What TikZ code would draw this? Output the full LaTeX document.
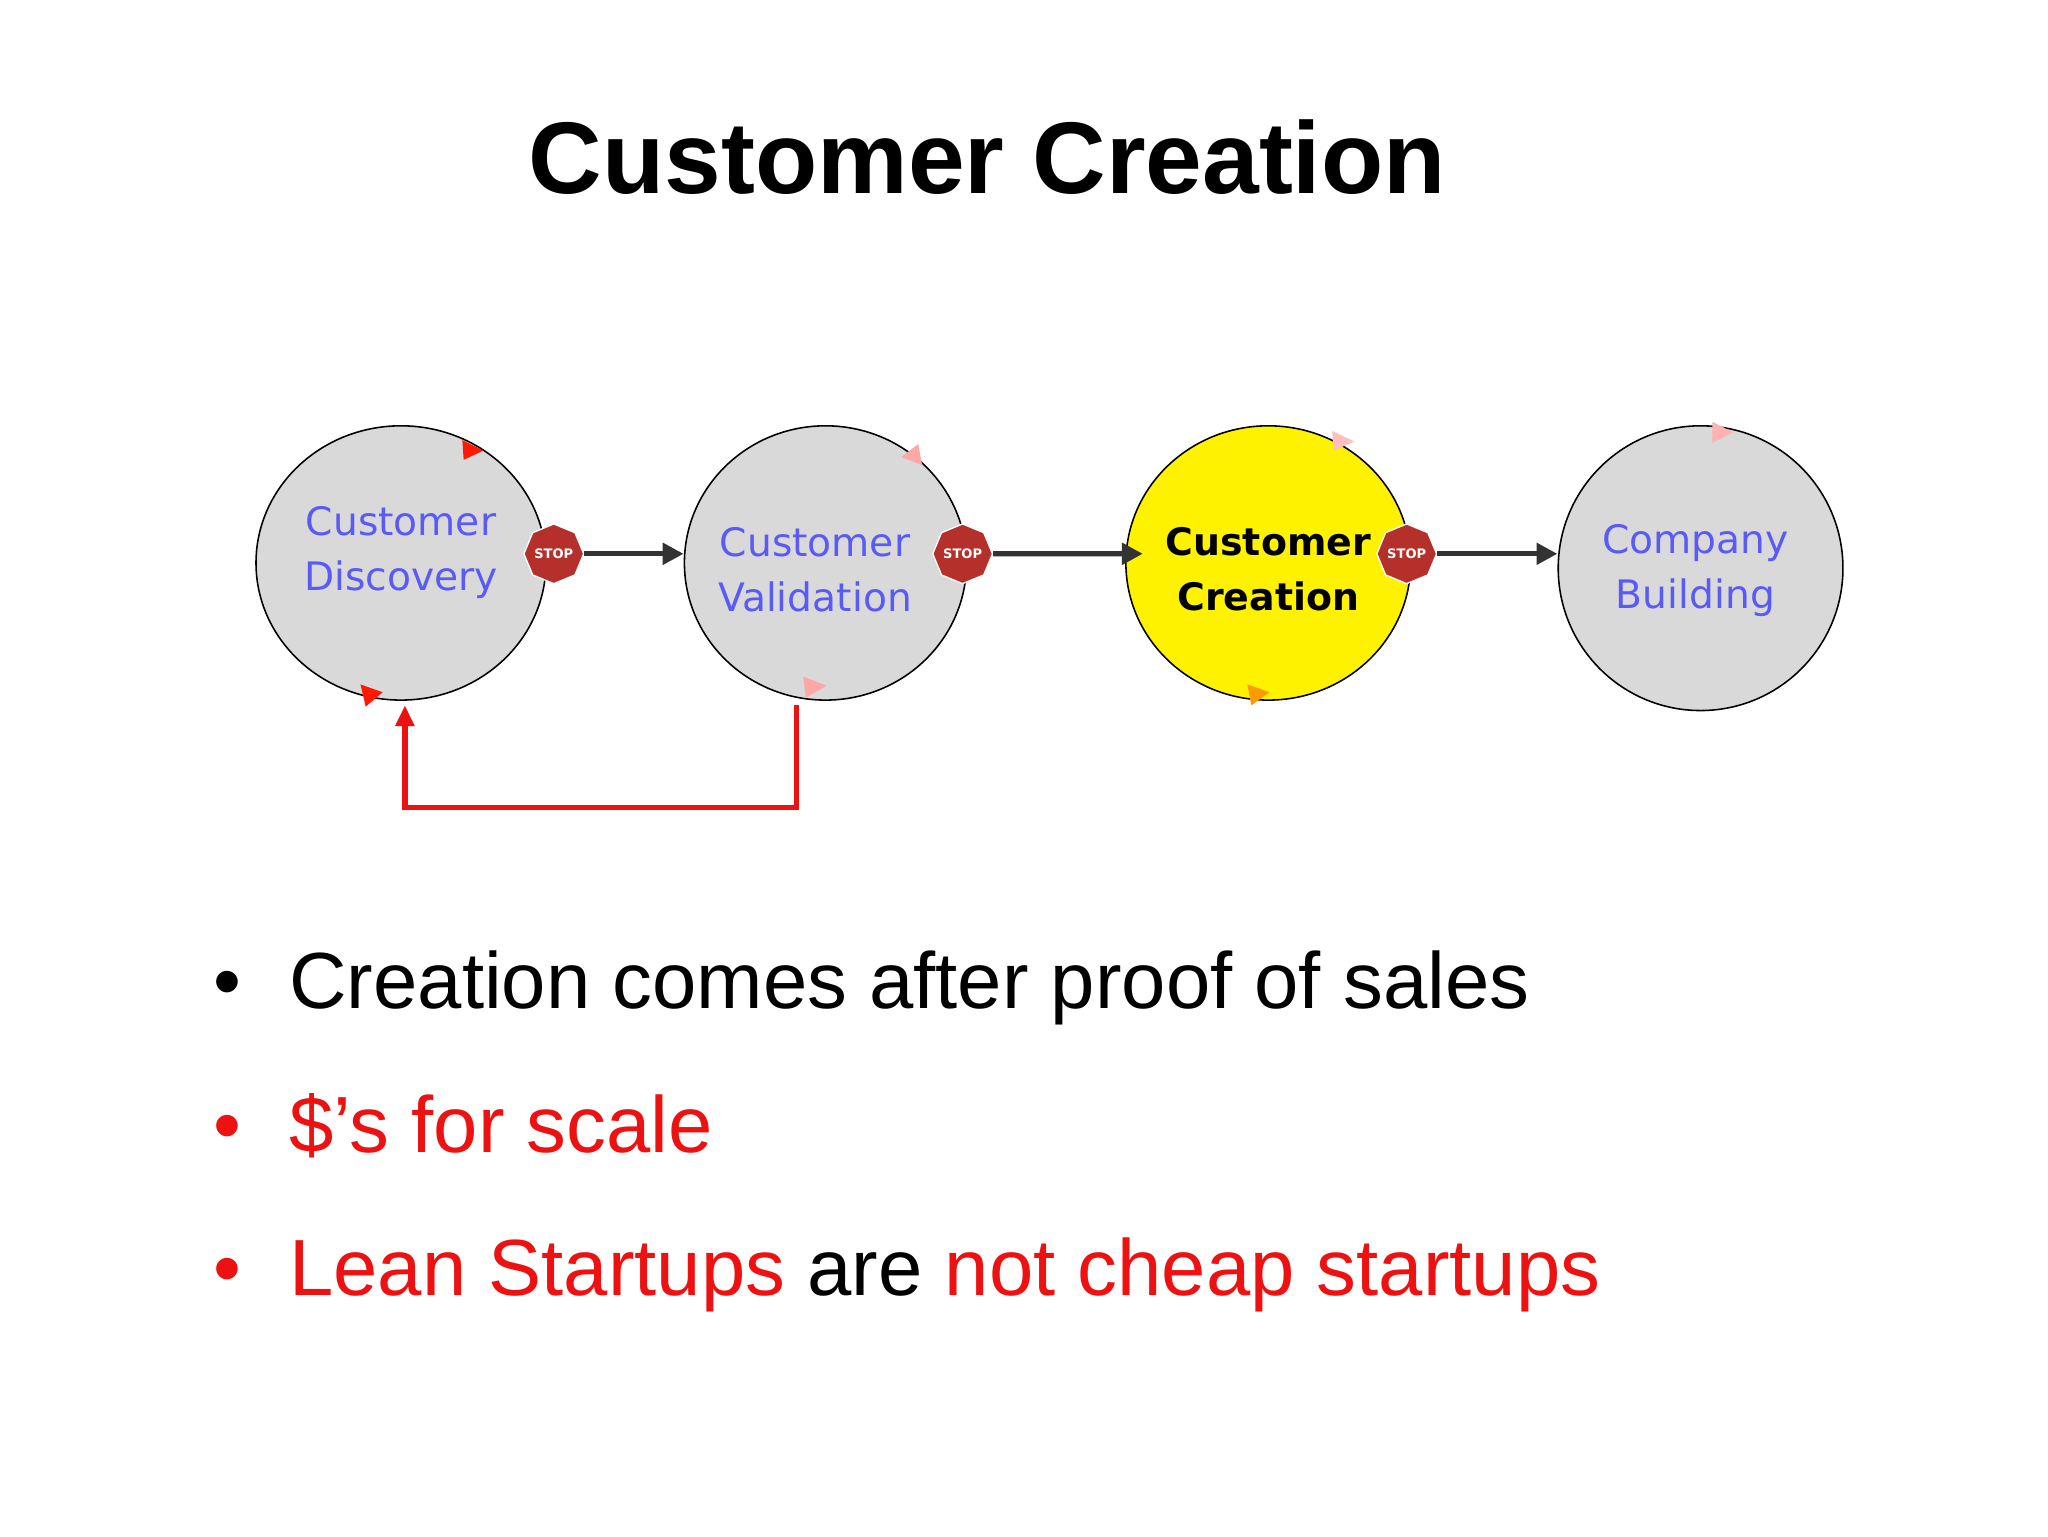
\documentclass[tikz,border=0pt]{standalone}
\usepackage{fontspec}
\setmainfont{Liberation Sans}
\newfontfamily\verd{DejaVu Sans}
\usetikzlibrary{shapes.geometric,arrows.meta}
\definecolor{cblue}{HTML}{5A5AF5}
\definecolor{cgray}{HTML}{D9D9D9}
\definecolor{cred}{HTML}{EE1111}
\definecolor{stopred}{HTML}{B5302A}
\tikzset{
 stage/.style={ellipse,draw=black,line width=1.2pt,fill=cgray,inner sep=0pt},
 stagetext/.style={font=\verd\fontsize{30}{42}\selectfont,text=cblue,align=center},
 stopsign/.style={regular polygon,regular polygon sides=8,shape border rotate=22.5,fill=stopred,draw=white,line width=1pt,minimum size=40pt,inner sep=0pt,text=white,font=\verd\bfseries\fontsize{10}{10}\selectfont},
 flow/.style={draw=black!80,line width=4pt,-{Triangle[length=16pt,width=16pt]}},
 tri/.style={fill=#1,draw=none},
 bullet/.style={anchor=base west,font=\fontsize{61}{63}\selectfont}
}
\begin{document}
\begin{tikzpicture}[x=1pt,y=-1pt]
\useasboundingbox[fill=white] (0,0) rectangle (1568,1176);
\node (title) at (756,120) {\bfseries\fontsize{78}{80}\selectfont Customer Creation};
\node[stage,minimum width=222pt,minimum height=210pt] (cd) at (307,431) {};
\node[stage,minimum width=216pt,minimum height=210pt] (cv) at (632,431) {};
\node[stage,fill=yellow,minimum width=218pt,minimum height=210pt] (cc) at (971,431) {};
\node[stage,minimum width=218pt,minimum height=218pt] (cb) at (1302,435) {};
\node[stagetext] (cdt) at (307,423) {Customer\\Discovery};
\node[stagetext] (cvt) at (624,436) {Customer\\Validation};
\node[stagetext,text=black,font=\verd\bfseries\fontsize{29}{42}\selectfont] (cct) at (971,436) {Customer\\Creation};
\node[stagetext] (cbt) at (1298,437) {Company\\Building};
\node[stopsign] (s1) at (424,424) {STOP};
\node[stopsign] (s2) at (737,424) {STOP};
\node[stopsign] (s3) at (1077,424) {STOP};
\draw[flow] (s1.east) -- (cv.west |- s1.east);
\draw[flow] (s2.east) -- (875,424);
\draw[flow] (s3.east) -- (cb.west |- s3.east);
\coordinate (fbA) at (610,540);
\coordinate (fbB) at (610,618);
\coordinate (fbC) at (310,618);
\coordinate (fbD) at (310,540);
\draw[cred,line width=4pt,-{Triangle[length=16pt,width=14pt]}] (fbA) -- (fbB) -- (fbC) -- (fbD);
% small triangles
\fill[tri=red!80!orange] (354,337) -- (370,345) -- (355,352) -- cycle;
\fill[tri=red!80!orange] (276,524) -- (293,530) -- (280,541) -- cycle;
\fill[tri=red!35] (703,340) -- (706,356) -- (690,350) -- cycle;
\fill[tri=red!35] (615,518) -- (633,525) -- (617,534) -- cycle;
\fill[tri=red!25] (1020,330) -- (1037,338) -- (1021,345) -- cycle;
\fill[tri=orange!80!yellow] (955,524) -- (972,530) -- (958,540) -- cycle;
\fill[tri=red!30] (1311,323) -- (1327,331) -- (1311,339) -- cycle;
\node[bullet] (b1) at (160,772) {•};
\node[bullet] (t1) at (218,772) {Creation comes after proof of sales};
\node[bullet,text=cred] (b2) at (160,882) {•};
\node[bullet,text=cred] (t2) at (218,882) {\$’s for scale};
\node[bullet,text=cred] (b3) at (160,992) {•};
\node[bullet] (t3) at (218,992) {\textcolor{cred}{Lean Startups} are \textcolor{cred}{not cheap startups}};
\end{tikzpicture}
\end{document}
